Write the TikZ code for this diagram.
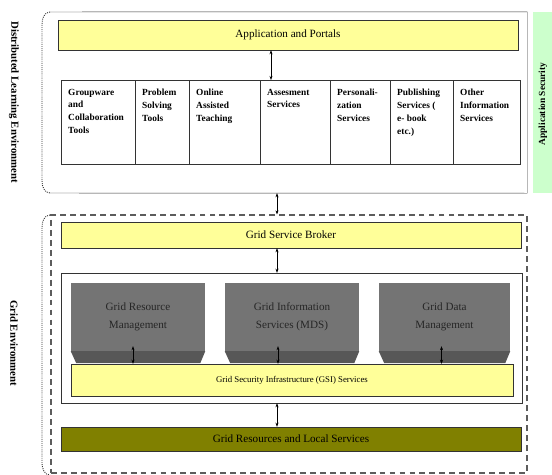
\documentclass[tikz,border=0pt]{standalone}
\usepackage{fontspec}
\setmainfont{Liberation Serif}
\usetikzlibrary{fit,arrows.meta}
\definecolor{paleyellow}{HTML}{FFFF99}
\definecolor{olivebar}{HTML}{808000}
\definecolor{greybox}{HTML}{747474}
\definecolor{greydark}{HTML}{575757}
\definecolor{palegreen}{HTML}{CCFFCC}
\definecolor{edge}{HTML}{333333}
\tikzstyle{bar}=[draw=edge, fill=paleyellow, inner sep=0pt,
    minimum width=13.8cm, font=\fontsize{9.5}{11}\selectfont]
\tikzstyle{cell}=[draw=edge, anchor=north west, inner xsep=0.21cm,
    inner ysep=0.26cm, font=\fontsize{8}{11}\selectfont\bfseries]
\tikzstyle{gbox}=[fill=greybox, inner sep=0pt, align=center,
    minimum height=2.04cm, text=black!85, font=\fontsize{9.5}{15}\selectfont]
\tikzstyle{side}=[rotate=-90, font=\fontsize{9.2}{10}\selectfont\bfseries]
\tikzstyle{dbl}=[<->, >={Stealth[length=3.5pt,width=2.6pt]}, black]
\newcommand{\cellbox}[2]{\parbox[t][2.0cm][t]{#1}{\raggedright #2}}

\begin{document}
\begin{tikzpicture}[x=0.03cm,y=-0.03cm]
  \useasboundingbox (0,0) rectangle (552,475);
  % strip on the right
  \fill[palegreen] (533,12) rectangle (552,193);
  \node[rotate=90, font=\fontsize{8}{10}\selectfont\bfseries] (aslabel) at (543,104) {Application Security};

  % learning environment
  \node[inner sep=0pt, fit={(42,12) (527,193)}] (dle) {};
  \draw[edge] (50,12) -- (dle.north east) -- (dle.south east) -- (50,193);
  \draw[edge, densely dotted, thick] (50,12) to[out=180,in=90] (42,24) -- (42,181) to[out=-90,in=180] (50,193);
  \node[side] (dlelabel) at (14,102) {Distributed Learning Environment};

  \node[bar, minimum height=0.9cm] (app) at (288,35) {Application and Portals};
  \node[cell] (grp) at (61,80) {\cellbox{1.80cm}{Groupware\\and\\Collaboration\\Tools}};
  \node[cell] (prb) at (135,80) {\cellbox{1.20cm}{Problem\\Solving\\Tools}};
  \node[cell] (onl) at (189,80) {\cellbox{1.71cm}{Online\\Assisted\\Teaching}};
  \node[cell] (ass) at (260,80) {\cellbox{1.68cm}{Assesment\\Services}};
  \node[cell] (per) at (330,80) {\cellbox{1.38cm}{Personali-\\zation\\Services}};
  \node[cell] (pub) at (390,80) {\cellbox{1.47cm}{Publishing\\Services (\\e- book\\etc.)}};
  \node[cell] (oth) at (453,80) {\cellbox{1.59cm}{Other\\Information\\Services}};

  \coordinate (tA) at (271,0);
  \draw[dbl] (tA |- app.south) -- (tA |- ass.north);

  % grid environment
  \node[draw=edge!80, line width=1pt, dash pattern=on 5pt off 3.5pt, inner sep=0pt, fit={(51,215) (527,473)}] (gre) {};
  \draw[edge, densely dotted, thick] (50,215) to[out=180,in=90] (42,227) -- (42,463) to[out=-90,in=180] (50,475);
  \node[side] (grelabel) at (14,343) {Grid Environment};

  \node[bar, minimum height=0.78cm] (gsb) at (291,235) {Grid Service Broker};
  \node[draw=edge, fill=white, inner sep=0pt, fit={(61,273) (522,403)}] (core) {};

  \node[gbox, minimum width=4.02cm] (grm) at (138,317) {Grid Resource\\Management};
  \fill[greydark] (grm.south west) -- (grm.south east) -- ++(-5,12) -- ++(-124,0) -- cycle;
  \node[gbox, minimum width=4.02cm] (gis) at (292,317) {Grid Information\\Services (MDS)};
  \fill[greydark] (gis.south west) -- (gis.south east) -- ++(-5,12) -- ++(-124,0) -- cycle;
  \node[gbox, minimum width=3.93cm] (gdm) at (444.5,317) {Grid Data\\Management};
  \fill[greydark] (gdm.south west) -- (gdm.south east) -- ++(-5,12) -- ++(-121,0) -- cycle;

  \node[bar, minimum width=13.26cm, minimum height=0.96cm, font=\fontsize{7.5}{9}\selectfont] (gsi) at (292,380) {Grid Security Infrastructure (GSI) Services};
  \node[bar, fill=olivebar, minimum height=0.72cm] (grls) at (291,439) {Grid Resources and Local Services};

  \draw[dbl] ([shift={(-5,-5)}]grm.south) coordinate (g1) -- (g1 |- gsi.north);
  \draw[dbl] ([shift={(-14,-5)}]gis.south) coordinate (g2) -- (g2 |- gsi.north);
  \draw[dbl] ([shift={(-3,-5)}]gdm.south) coordinate (g3) -- (g3 |- gsi.north);

  \coordinate (tB) at (277,0);
  \draw[dbl] (tB |- dle.south) -- (tB |- gre.north);
  \draw[dbl] (tB |- gsb.south) -- (tB |- core.north);
  \draw[dbl] (tB |- core.south) -- (tB |- grls.north);
\end{tikzpicture}
\end{document}
